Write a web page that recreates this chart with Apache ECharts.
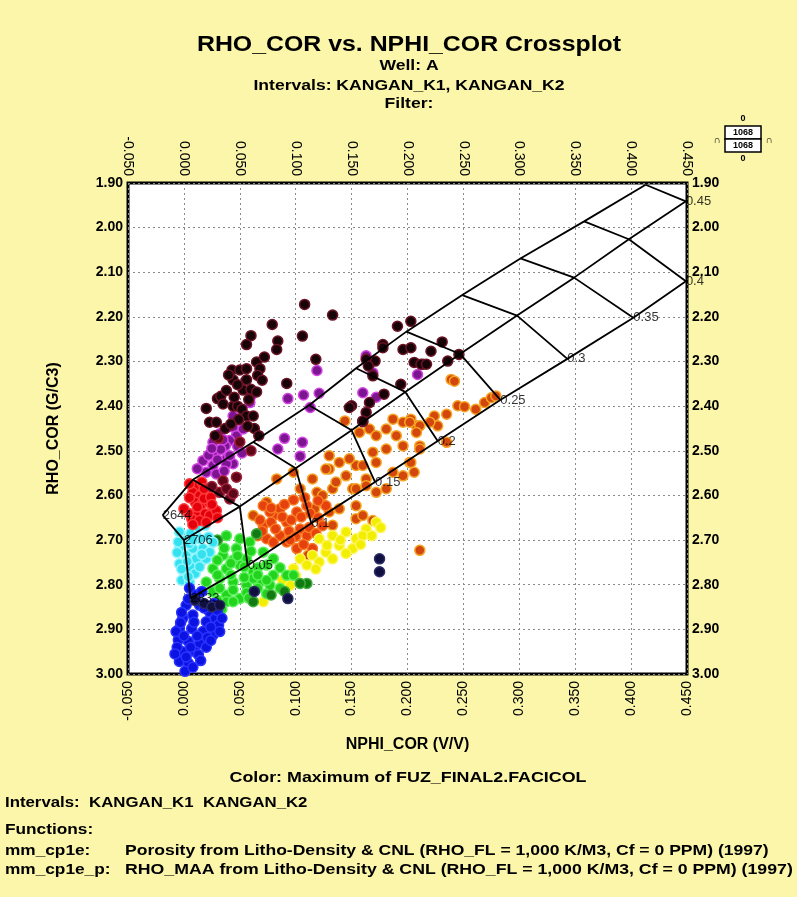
<!DOCTYPE html>
<html>
<head>
<meta charset="utf-8">
<script src="https://cdn.jsdelivr.net/npm/echarts@6/dist/echarts.min.js"></script>
<style>
  html, body { margin: 0; padding: 0; background: #fbf6a9; }
  #main { width: 797px; height: 897px; }
</style>
</head>
<body>
<div id="main"></div>
<script>
// --- chart overlay (porosity lines), [NPHI, RHO] ---
var porosity = ["0", "0.05", "0.1", "0.15", "0.2", "0.25", "0.3", "0.35", "0.4", "0.45"];
var sandLine = [[-0.019, 2.644], [0.008, 2.565], [0.062, 2.480], [0.112, 2.398], [0.154, 2.315],
  [0.199, 2.233], [0.249, 2.151], [0.301, 2.069], [0.358, 1.986], [0.413, 1.904]];
var limeLine = [[0.000, 2.700], [0.050, 2.625], [0.100, 2.539], [0.150, 2.454], [0.198, 2.368],
  [0.247, 2.283], [0.298, 2.197], [0.349, 2.112], [0.398, 2.026], [0.449, 1.941]];
var doloLine = [[0.006, 2.830], [0.057, 2.757], [0.114, 2.662], [0.171, 2.570], [0.227, 2.478],
  [0.283, 2.386], [0.343, 2.294], [0.402, 2.202], [0.449, 2.120]];
var lineLabels = [
  { text: "2644", at: [-0.019, 2.644] },
  { text: "2706", at: [0.000, 2.700] },
  { text: "2833", at: [0.006, 2.830] },
  { text: "0.05", at: [0.057, 2.757] },
  { text: "0.1", at: [0.114, 2.662] },
  { text: "0.15", at: [0.171, 2.570] },
  { text: "0.2", at: [0.227, 2.478] },
  { text: "0.25", at: [0.283, 2.386] },
  { text: "0.3", at: [0.343, 2.294] },
  { text: "0.35", at: [0.402, 2.202] },
  { text: "0.4", at: [0.449, 2.120] },
  { text: "0.45", at: [0.449, 1.941] }
];

// --- data points by facies colour ---
var blackPts = [[0.108, 2.172], [0.133, 2.196], [0.079, 2.217], [0.106, 2.243], [0.060, 2.242], [0.056, 2.262],
  [0.084, 2.254], [0.083, 2.273], [0.118, 2.295], [0.043, 2.319], [0.050, 2.319], [0.056, 2.316], [0.044, 2.341],
  [0.056, 2.341], [0.065, 2.301], [0.068, 2.316], [0.066, 2.331], [0.053, 2.364], [0.060, 2.362], [0.065, 2.368],
  [0.092, 2.349], [0.030, 2.383], [0.033, 2.378], [0.020, 2.405], [0.023, 2.436], [0.029, 2.436], [0.037, 2.450],
  [0.044, 2.400], [0.048, 2.400], [0.052, 2.407], [0.056, 2.422], [0.062, 2.422], [0.063, 2.450], [0.067, 2.466],
  [0.028, 2.466], [0.150, 2.399], [0.160, 2.435], [0.163, 2.414], [0.166, 2.392], [0.179, 2.373], [0.171, 2.299],
  [0.163, 2.295], [0.178, 2.262], [0.191, 2.221], [0.203, 2.210], [0.196, 2.273], [0.203, 2.269], [0.206, 2.302],
  [0.214, 2.306], [0.178, 2.269], [0.165, 2.310], [0.169, 2.332], [0.194, 2.351], [0.148, 2.403], [0.160, 2.433],
  [0.221, 2.277], [0.231, 2.256], [0.212, 2.306], [0.217, 2.306], [0.236, 2.299], [0.246, 2.284],
  [0.040, 2.330], [0.048, 2.352], [0.038, 2.365], [0.045, 2.380], [0.035, 2.395], [0.058, 2.385], [0.049, 2.430],
  [0.042, 2.440], [0.057, 2.445], [0.070, 2.342], [0.072, 2.290]];
var maroonPts = [[0.060, 2.500], [0.035, 2.567], [0.041, 2.608], [0.032, 2.593], [0.047, 2.559], [0.025, 2.580],
  [0.038, 2.585], [0.044, 2.596], [0.050, 2.480], [0.031, 2.472]];
var purplePts = [[0.119, 2.320], [0.093, 2.383], [0.107, 2.375], [0.121, 2.371], [0.113, 2.403], [0.163, 2.287],
  [0.160, 2.370], [0.169, 2.325], [0.172, 2.380], [0.090, 2.472], [0.084, 2.496], [0.106, 2.481], [0.104, 2.512],
  [0.059, 2.392], [0.060, 2.377], [0.044, 2.447], [0.047, 2.466], [0.041, 2.477], [0.037, 2.489], [0.026, 2.481],
  [0.028, 2.503], [0.038, 2.518], [0.044, 2.529], [0.017, 2.522], [0.053, 2.451], [0.026, 2.533], [0.038, 2.529],
  [0.041, 2.511], [0.020, 2.548], [0.029, 2.552], [0.209, 2.329], [0.044, 2.422], [0.033, 2.497], [0.022, 2.510],
  [0.032, 2.462], [0.035, 2.475], [0.025, 2.495], [0.048, 2.490], [0.052, 2.505], [0.030, 2.520], [0.012, 2.540],
  [0.036, 2.545]];
var redPts = [[0.011, 2.578], [0.016, 2.570], [0.008, 2.593], [0.014, 2.600], [0.020, 2.593], [0.010, 2.615],
  [0.016, 2.619], [0.022, 2.615], [0.026, 2.630], [0.011, 2.637], [0.019, 2.641], [0.007, 2.652], [0.014, 2.656],
  [0.023, 2.645], [0.029, 2.634], [0.005, 2.574], [0.018, 2.607], [0.012, 2.626], [0.024, 2.604], [0.004, 2.640],
  [0.018, 2.585], [0.025, 2.620], [0.005, 2.605], [0.000, 2.630], [0.030, 2.650], [0.008, 2.665], [0.020, 2.660]];
var cyanPts = [[-0.004, 2.682], [0.001, 2.701], [-0.004, 2.719], [0.002, 2.734], [-0.004, 2.753], [0.001, 2.771],
  [-0.002, 2.790], [0.011, 2.675], [0.019, 2.667], [0.014, 2.697], [0.022, 2.693], [0.008, 2.719], [0.017, 2.719],
  [0.011, 2.742], [0.020, 2.742], [-0.005, 2.704], [0.023, 2.727], [0.005, 2.794], [0.006, 2.760], [0.006, 2.685],
  [0.005, 2.708], [0.016, 2.732], [0.003, 2.748], [0.010, 2.775], [-0.002, 2.765], [0.014, 2.760], [0.008, 2.700],
  [0.026, 2.705], [-0.006, 2.728], [0.004, 2.782]];
var bluePts = [[0.005, 2.808], [0.011, 2.823], [0.002, 2.846], [0.014, 2.846], [0.023, 2.861], [-0.001, 2.875],
  [0.008, 2.868], [0.020, 2.883], [0.028, 2.875], [-0.004, 2.898], [0.007, 2.898], [0.017, 2.905], [0.026, 2.913],
  [-0.005, 2.924], [0.004, 2.927], [0.014, 2.931], [-0.001, 2.950], [0.010, 2.950], [-0.004, 2.972], [0.004, 2.976],
  [0.001, 2.994], [0.031, 2.890], [0.013, 2.957], [-0.007, 2.905], [0.004, 2.832], [0.018, 2.852], [0.009, 2.884],
  [0.021, 2.918], [0.006, 2.940], [0.002, 2.962], [0.008, 2.985], [-0.002, 2.862], [0.016, 2.815], [0.030, 2.858],
  [0.034, 2.875], [0.024, 2.895], [0.032, 2.905], [0.012, 2.915], [0.020, 2.940], [0.024, 2.925], [0.015, 2.970],
  [-0.006, 2.940], [-0.008, 2.955], [0.000, 2.915], [-0.003, 2.885], [0.027, 2.842]];
var greenPts = [[0.038, 2.690], [0.050, 2.697], [0.023, 2.727], [0.035, 2.734], [0.047, 2.719], [0.056, 2.742],
  [0.026, 2.764], [0.038, 2.764], [0.050, 2.756], [0.062, 2.771], [0.074, 2.756], [0.020, 2.794], [0.032, 2.786],
  [0.044, 2.794], [0.056, 2.801], [0.068, 2.794], [0.080, 2.779], [0.092, 2.779], [0.026, 2.816], [0.038, 2.823],
  [0.050, 2.831], [0.026, 2.846], [0.038, 2.838], [0.074, 2.820], [0.077, 2.801], [0.086, 2.808], [0.098, 2.779],
  [0.080, 2.742], [0.071, 2.727], [0.059, 2.704], [0.044, 2.745], [0.062, 2.786], [0.032, 2.808], [0.086, 2.762],
  [0.030, 2.745], [0.042, 2.752], [0.054, 2.760], [0.066, 2.762], [0.030, 2.778], [0.042, 2.778], [0.054, 2.784],
  [0.066, 2.778], [0.074, 2.790], [0.044, 2.812], [0.056, 2.818], [0.066, 2.808], [0.030, 2.835], [0.044, 2.838],
  [0.058, 2.830], [0.036, 2.718], [0.048, 2.735], [0.060, 2.725], [0.034, 2.855]];
var darkGreenPts = [[0.110, 2.797], [0.104, 2.797], [0.078, 2.823], [0.065, 2.686], [0.014, 2.756], [0.030, 2.700],
  [0.062, 2.838], [0.016, 2.846], [0.090, 2.815]];
var orangePts = [[0.083, 2.563], [0.098, 2.548], [0.115, 2.563], [0.130, 2.541], [0.139, 2.526], [0.154, 2.533],
  [0.163, 2.563], [0.151, 2.585], [0.133, 2.585], [0.119, 2.593], [0.104, 2.585], [0.074, 2.615], [0.062, 2.645],
  [0.139, 2.630], [0.154, 2.652], [0.169, 2.656], [0.133, 2.667],
  [0.144, 2.433], [0.157, 2.459], [0.166, 2.451], [0.172, 2.466], [0.181, 2.451], [0.187, 2.429], [0.196, 2.436],
  [0.203, 2.429], [0.208, 2.444], [0.190, 2.466], [0.196, 2.489], [0.181, 2.496], [0.169, 2.503], [0.172, 2.526],
  [0.160, 2.533], [0.148, 2.518], [0.130, 2.511], [0.127, 2.541], [0.136, 2.570], [0.145, 2.556], [0.154, 2.585],
  [0.163, 2.578], [0.211, 2.489], [0.202, 2.526], [0.187, 2.548], [0.181, 2.585], [0.124, 2.600], [0.117, 2.630],
  [0.130, 2.637], [0.160, 2.645], [0.154, 2.623], [0.172, 2.593], [0.196, 2.556],
  [0.239, 2.340], [0.242, 2.344], [0.245, 2.399], [0.251, 2.401], [0.261, 2.407], [0.269, 2.392], [0.275, 2.381],
  [0.279, 2.377], [0.235, 2.418], [0.224, 2.422], [0.227, 2.444], [0.220, 2.436], [0.211, 2.444], [0.202, 2.436],
  [0.208, 2.459], [0.235, 2.481], [0.211, 2.496], [0.203, 2.526], [0.211, 2.723], [0.206, 2.548], [0.111, 2.734]];
var orangeCorePts = [[0.071, 2.667], [0.080, 2.645], [0.086, 2.630], [0.092, 2.660], [0.101, 2.637], [0.110, 2.623],
  [0.127, 2.623], [0.104, 2.675], [0.086, 2.690], [0.074, 2.697], [0.092, 2.704], [0.110, 2.690], [0.115, 2.719],
  [0.101, 2.719], [0.066, 2.690], [0.077, 2.637], [0.071, 2.623], [0.068, 2.655], [0.078, 2.660], [0.088, 2.648],
  [0.096, 2.655], [0.105, 2.648], [0.113, 2.640], [0.120, 2.650], [0.082, 2.675], [0.094, 2.680], [0.100, 2.692],
  [0.112, 2.672], [0.124, 2.668], [0.118, 2.685], [0.078, 2.628], [0.090, 2.620], [0.098, 2.610], [0.108, 2.605],
  [0.120, 2.612], [0.095, 2.700], [0.080, 2.705], [0.070, 2.680], [0.107, 2.710]];
var yellowPts = [[0.121, 2.697], [0.133, 2.690], [0.145, 2.682], [0.154, 2.697], [0.163, 2.675], [0.172, 2.660],
  [0.139, 2.712], [0.127, 2.727], [0.115, 2.734], [0.104, 2.742], [0.110, 2.756], [0.121, 2.749], [0.133, 2.742],
  [0.151, 2.719], [0.095, 2.801], [0.071, 2.838], [0.098, 2.764], [0.160, 2.690], [0.140, 2.700], [0.145, 2.730],
  [0.158, 2.710], [0.168, 2.690], [0.176, 2.672], [0.128, 2.712], [0.118, 2.765], [0.100, 2.780], [0.088, 2.790]];
var navyPts = [[0.175, 2.742], [0.175, 2.771], [0.093, 2.831], [0.063, 2.815], [0.010, 2.835], [0.018, 2.842],
  [0.025, 2.850], [0.032, 2.846]];

var xTicks = { min: -0.05, max: 0.45, step: 0.05 };
var yTicks = { min: 1.9, max: 3.0, step: 0.1 };

var FONT = '"Liberation Sans", Arial, sans-serif';

function txt(x, y, s, size, align, sx) {
  return {
    type: "text", x: x, y: y, scaleX: sx || 1,
    style: { text: s, textAlign: align || "left", textVerticalAlign: "middle", font: "bold " + size + "px " + FONT, fill: "#000" }
  };
}

function loadChart() {
  var myChart = echarts.init(document.getElementById("main"));

  // scatter groups: [data, fill, halo]
  var groups = [
    [orangePts, "#d3470c", "#f5a423"],
    [orangeCorePts, "#e5400d", "#f77a22"],
    [yellowPts, "#f2ee00", "#fff45a"],
    [greenPts, "#22d41e", "#5cf05a"],
    [darkGreenPts, "#117a12", "#3fae3c"],
    [cyanPts, "#34e2ef", "#8ff4ff"],
    [bluePts, "#0c12e2", "#2a34ff"],
    [redPts, "#e3000c", "#ff3a3a"],
    [purplePts, "#7c1590", "#d444e4"],
    [maroonPts, "#5c0618", "#a0203a"],
    [blackPts, "#170408", "#6c1426"],
    [navyPts, "#0f1040", "#2b2c66"]
  ];

  var series = [];
  groups.forEach(function (g) {
    series.push({
      type: "scatter",
      data: g[0],
      symbol: "circle",
      symbolSize: 10,
      silent: true,
      itemStyle: { color: g[1], borderColor: g[2], borderWidth: 1.5, opacity: 1 },
      z: 2
    });
  });

  // lithology lines
  [sandLine, limeLine, doloLine].forEach(function (l) {
    series.push({
      type: "line", data: l, showSymbol: false, silent: true, z: 5,
      lineStyle: { color: "#000", width: 1.8 }
    });
  });
  // constant porosity lines
  porosity.forEach(function (p, i) {
    var pts = [sandLine[i], limeLine[i]];
    if (doloLine[i]) pts.push(doloLine[i]);
    series.push({
      type: "line", data: pts, showSymbol: false, silent: true, z: 5,
      lineStyle: { color: "#000", width: 1.8 }
    });
  });
  series.push({
    type: "scatter",
    symbolSize: 0,
    silent: true,
    z: 6,
    data: lineLabels.map(function (d) { return { name: d.text, value: d.at }; }),
    label: {
      show: true, position: "right", distance: 0, formatter: "{b}",
      color: "#000", fontSize: 13, fontFamily: FONT
    }
  });

  var xAxisBase = {
    type: "value", min: xTicks.min, max: xTicks.max, interval: xTicks.step,
    axisLine: { show: false }, axisTick: { show: false },
    axisLabel: {
      rotate: 90, color: "#000", fontSize: 14, fontFamily: FONT, margin: 7,
      formatter: function (v) { return v.toFixed(3); }
    }
  };
  var yAxisBase = {
    type: "value", inverse: true, min: yTicks.min, max: yTicks.max, interval: yTicks.step,
    axisLine: { show: false }, axisTick: { show: false },
    axisLabel: {
      color: "#000", fontSize: 14, fontFamily: FONT, fontWeight: "bold", margin: 5,
      formatter: function (v) { return v.toFixed(2); }
    }
  };
  var grid = { color: "#8a8a8a", type: [2, 3], width: 1 };

  var option = {
    backgroundColor: "#fbf6a9",
    animation: false,
    grid: {
      left: 128, right: 110, top: 183, bottom: 223,
      show: true, backgroundColor: "#fff", borderColor: "#000", borderWidth: 3
    },
    xAxis: [
      Object.assign({}, xAxisBase, {
        position: "bottom",
        splitLine: { show: true, lineStyle: grid },
        name: "NPHI_COR (V/V)", nameLocation: "middle", nameGap: 63,
        nameTextStyle: { color: "#000", fontSize: 16, fontWeight: "bold", fontFamily: FONT }
      }),
      Object.assign({}, xAxisBase, { position: "top", splitLine: { show: false } })
    ],
    yAxis: [
      Object.assign({}, yAxisBase, {
        position: "left",
        splitLine: { show: true, lineStyle: grid },
        name: "RHO_COR (G/C3)", nameLocation: "middle", nameGap: 66, nameRotate: 90,
        nameTextStyle: { color: "#000", fontSize: 16, fontWeight: "bold", fontFamily: FONT }
      }),
      Object.assign({}, yAxisBase, { position: "right", splitLine: { show: false } })
    ],
    graphic: [
      txt(409, 45, "RHO_COR vs. NPHI_COR Crossplot", 22, "center", 1.13),
      txt(409, 66, "Well: A", 15, "center", 1.17),
      txt(409, 86, "Intervals: KANGAN_K1, KANGAN_K2", 15, "center", 1.17),
      txt(409, 104, "Filter:", 15, "center", 1.17),
      // little well box top right
      { type: "rect", shape: { x: 725, y: 126, width: 36, height: 13 }, style: { fill: "#fff", stroke: "#000", lineWidth: 1.5 } },
      { type: "rect", shape: { x: 725, y: 139, width: 36, height: 13 }, style: { fill: "#fff", stroke: "#000", lineWidth: 1.5 } },
      txt(743, 133, "1068", 9, "center"),
      txt(743, 146, "1068", 9, "center"),
      txt(743, 119, "0", 9, "center"),
      txt(743, 159, "0", 9, "center"),
      txt(717, 140, "∩", 10, "center"),
      txt(769, 140, "∩", 10, "center"),
      // footer
      txt(408, 778, "Color: Maximum of FUZ_FINAL2.FACICOL", 15, "center", 1.19),
      txt(5, 803, "Intervals:  KANGAN_K1  KANGAN_K2", 15, "left", 1.12),
      txt(5, 830, "Functions:", 15, "left", 1.15),
      txt(5, 851, "mm_cp1e:", 15, "left", 1.15),
      txt(125, 851, "Porosity from Litho-Density & CNL (RHO_FL = 1,000 K/M3, Cf = 0 PPM) (1997)", 15, "left", 1.17),
      txt(5, 870, "mm_cp1e_p:", 15, "left", 1.15),
      txt(125, 870, "RHO_MAA from Litho-Density & CNL (RHO_FL = 1,000 K/M3, Cf = 0 PPM) (1997)", 15, "left", 1.18)
    ],
    series: series
  };

  option && myChart.setOption(option);
}

loadChart();
</script>
</body>
</html>
